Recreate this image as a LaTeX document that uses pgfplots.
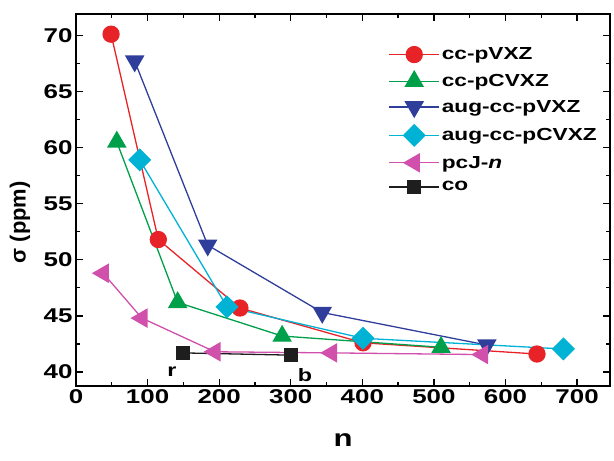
\documentclass[border=0pt]{standalone}
\usepackage{fontspec}
\setmainfont{Liberation Sans}[FakeStretch=1.3]
\newfontfamily\plainfont{Liberation Sans}
\usepackage{pgfplots}
\pgfplotsset{compat=1.18}
\definecolor{cred}{RGB}{232,35,40}
\definecolor{cgreen}{RGB}{0,160,75}
\definecolor{cblue}{RGB}{48,62,155}
\definecolor{ccyan}{RGB}{0,178,212}
\definecolor{cpink}{RGB}{208,80,172}
\definecolor{cblack}{RGB}{30,30,30}

\begin{document}
\begin{tikzpicture}
\begin{axis}[
  scale only axis,
  width=534bp, height=372bp,
  xmin=0, xmax=746,
  ymin=38.75, ymax=71.9,
  xtick={0,100,...,700},
  ytick={40,45,...,70},
  minor x tick num=1, minor y tick num=1,
  tick align=inside,
  major tick length=7bp, minor tick length=4bp,
  every tick/.style={line width=1.3bp, black},
  axis line style={line width=1.8bp},
  tick label style={font=\fontsize{20}{20}\selectfont\bfseries},
  /pgf/number format/assume math mode=true,
  xlabel={n},
  ylabel={\plainfont σ (ppm)},
  xlabel style={font=\fontsize{24}{24}\selectfont\bfseries, at={(axis description cs:0.5,-0.145)}, anchor=center},
  ylabel style={font=\fontsize{22}{22}\selectfont\bfseries, at={(axis description cs:-0.105,0.44)}, anchor=center},
  legend style={
    at={(axis description cs:0.585,0.915)}, anchor=north west,
    draw=none, fill=none,
    font=\fontsize{17.5}{17.5}\selectfont\bfseries,
    row sep=8bp, inner sep=0pt,
  },
  legend cell align=left,
  legend image code/.code={
    \draw[mark repeat=2,mark phase=2] plot coordinates {(0bp,0bp)(25bp,0bp)(50bp,0bp)};
  },
  every axis plot/.append style={line width=1.3bp},
]

\addplot[color=cred, mark=*, mark size=8bp, mark options={solid}] coordinates {
  (49,70.1)(115,51.8)(229,45.7)(401,42.6)(644,41.6)
};
\addlegendentry{cc-pVXZ}

\addplot[color=cgreen, mark=triangle*, mark size=10bp] coordinates {
  (57,60.5)(142,46.2)(288,43.2)(510,42.2)
};
\addlegendentry{cc-pCVXZ}

\addplot[color=cblue, mark=triangle*, mark size=10bp, mark options={rotate=180}] coordinates {
  (82,67.7)(184,51.3)(344,45.3)(574,42.4)
};
\addlegendentry{aug-cc-pVXZ}

\addplot[color=ccyan, mark=square*, mark size=7.5bp, mark options={rotate=45}] coordinates {
  (89,58.9)(211,45.8)(401,43.0)(681,42.05)
};
\addlegendentry{aug-cc-pCVXZ}

\addplot[color=cpink, mark=triangle*, mark size=10bp, mark options={rotate=90}] coordinates {
  (38,48.8)(92,44.8)(194,41.8)(357,41.7)(568,41.55)
};
\addlegendentry{pcJ-\textit{n}}

\addplot[color=cblack, mark=square*, mark size=6.5bp] coordinates {
  (149,41.7)(300,41.5)
};
\addlegendentry{co}

\node[font=\fontsize{18}{18}\selectfont\bfseries] at (axis cs:134,40.0) {r};
\node[font=\fontsize{18}{18}\selectfont\bfseries] at (axis cs:320,39.7) {b};
\end{axis}
\pgfresetboundingbox
\path (current axis.south west) ++(-76bp,-75bp) rectangle ([shift={(4bp,14bp)}]current axis.north east);
\end{tikzpicture}
\end{document}
